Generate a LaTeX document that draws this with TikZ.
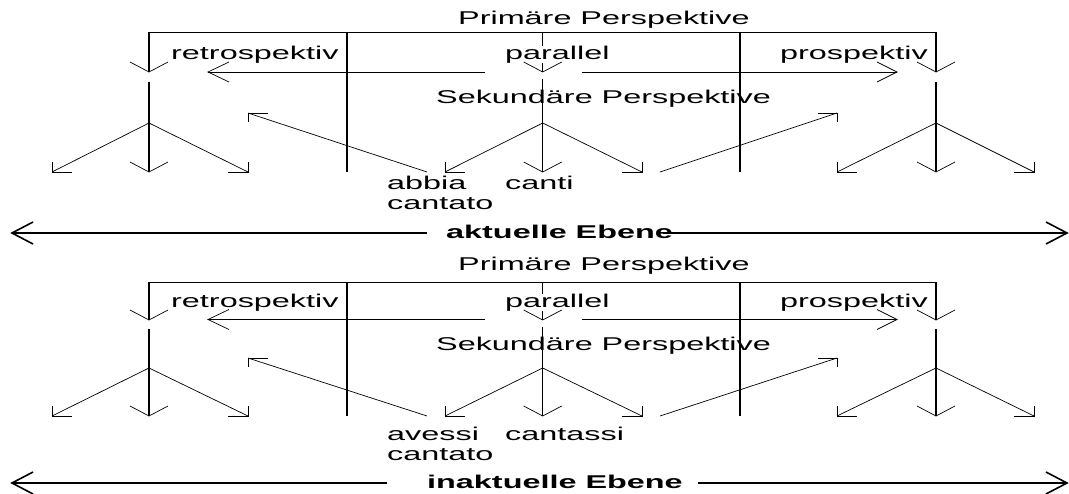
\documentclass[tikz,border=0pt]{standalone}
\usepackage{fontspec}
\newfontfamily\wf[FakeStretch=1.75]{Liberation Sans}
\tikzset{
  ln/.style={line width=0.7pt},
  mln/.style={line width=1.1pt},
  tk/.style={line width=1.6pt},
  lbl/.style={font=\wf\fontsize{18.5}{20}\selectfont, inner sep=0pt, anchor=base west},
  blbl/.style={lbl, font=\wf\bfseries\fontsize{18.5}{20}\selectfont},
}
\newcommand\mybarb[4][ln]{\draw[#1] (#2) ++(#3) -- (#2) -- ++(#4);}
\begin{document}
\begin{tikzpicture}[x=1pt,y=-1pt]
\useasboundingbox (0,0) rectangle (1069,493);
% ================= upper panel =================
\coordinate (aTL) at (149,32); \coordinate (aTR) at (936,32);
\coordinate (aD1t) at (347,32); \coordinate (aD1b) at (347,172);
\coordinate (aD2t) at (740,32); \coordinate (aD2b) at (740,172);
\coordinate (aC) at (542.7,32);
\coordinate (aLt) at (149,72); \coordinate (aMt) at (542.7,72); \coordinate (aRt) at (936,72);
\coordinate (aLs) at (149,82); \coordinate (aLb) at (149,123); \coordinate (aLd) at (149,172);
\coordinate (aLl) at (52,172); \coordinate (aLr) at (248,172);
\coordinate (aMs) at (542.7,79); \coordinate (aMb) at (542.7,123); \coordinate (aMd) at (542.7,172);
\coordinate (aMl) at (445,172); \coordinate (aMr) at (642,172);
\coordinate (aRs) at (936,82); \coordinate (aRb) at (936,123); \coordinate (aRd) at (936,172);
\coordinate (aRl) at (837,172); \coordinate (aRr) at (1034,172);
\coordinate (aH1s) at (485,72); \coordinate (aH1e) at (208,72);
\coordinate (aH2s) at (582,72); \coordinate (aH2e) at (897,72);
\coordinate (aG1s) at (427,172); \coordinate (aG1e) at (248,113);
\coordinate (aG2s) at (660,172); \coordinate (aG2e) at (837,113);
\coordinate (aE1s) at (427,233); \coordinate (aE1e) at (12,233);
\coordinate (aE2s) at (663,233); \coordinate (aE2e) at (1067,233);

\draw[ln] (aTL) -- (aTR);
\draw[mln] (aD1t) -- (aD1b);
\draw[mln] (aD2t) -- (aD2b);
\draw[mln] (aTL) -- (aLt);
\draw[mln] (aC) -- (aMt);
\draw[mln] (aTR) -- (aRt);
\draw[mln] (aLs) -- (aLd);
\draw[mln] (aMs) -- (aMd);
\draw[mln] (aRs) -- (aRd);
\draw[ln] (aLl) -- (aLb) -- (aLr);
\draw[ln] (aMl) -- (aMb) -- (aMr);
\draw[ln] (aRl) -- (aRb) -- (aRr);
\draw[ln] (aH1s) -- (aH1e);
\draw[ln] (aH2s) -- (aH2e);
\draw[ln] (aG1s) -- (aG1e);
\draw[ln] (aG2s) -- (aG2e);
\draw[tk] (aE1s) -- (aE1e);
\draw[tk] (aE2s) -- (aE2e);

\node[lbl] (aPrim) at (458,24) {Primäre Perspektive};
\node[lbl] (aRetro) at (171,59) {retrospektiv};
\node[lbl, fill=white] (aPar) at (505,59) {parallel};
\node[lbl] (aPro) at (780,59) {prospektiv};
\node[lbl] (aSek) at (436,103) {Sekundäre Perspektive};
\node[lbl] (aW1) at (387,189) {abbia};
\node[lbl] (aW1b) at (387,209) {cantato};
\node[lbl] (aW2) at (505,189) {canti};
\node[blbl] (aEb) at (446,238) {aktuelle Ebene};

\mybarb{aLt}{-19,-10}{19,-10}
\mybarb{aMt}{-19,-10}{19,-10}
\mybarb{aRt}{-19,-10}{19,-10}
\mybarb{aLd}{-19,-10}{19,-10}
\mybarb{aMd}{-19,-10}{19,-10}
\mybarb{aRd}{-19,-10}{19,-10}
\mybarb{aLl}{0,-10}{20,0}
\mybarb{aMl}{0,-10}{20,0}
\mybarb{aRl}{0,-10}{20,0}
\mybarb{aLr}{0,-10}{-20,0}
\mybarb{aMr}{0,-10}{-20,0}
\mybarb{aRr}{0,-10}{-20,0}
\mybarb{aH1e}{21,-10}{21,10}
\mybarb{aH2e}{-20,-10}{-20,10}
\mybarb{aG1e}{20,0}{0,9}
\mybarb{aG2e}{-19,0}{0,9}
\mybarb[tk]{aE1e}{21,-11}{21,11}
\mybarb[tk]{aE2e}{-21,-11}{-21,11}

% ================= lower panel =================
\coordinate (bTL) at (149,282); \coordinate (bTR) at (936,282);
\coordinate (bD1t) at (347,282); \coordinate (bD1b) at (347,416);
\coordinate (bD2t) at (740,282); \coordinate (bD2b) at (740,416);
\coordinate (bC) at (542.7,282);
\coordinate (bLt) at (149,320); \coordinate (bMt) at (542.7,320); \coordinate (bRt) at (936,320);
\coordinate (bLs) at (149,329); \coordinate (bLb) at (149,368); \coordinate (bLd) at (149,416);
\coordinate (bLl) at (52,416); \coordinate (bLr) at (248,416);
\coordinate (bMs) at (542.7,327); \coordinate (bMb) at (542.7,368); \coordinate (bMd) at (542.7,416);
\coordinate (bMl) at (445,416); \coordinate (bMr) at (642,416);
\coordinate (bRs) at (936,329); \coordinate (bRb) at (936,368); \coordinate (bRd) at (936,416);
\coordinate (bRl) at (837,416); \coordinate (bRr) at (1034,416);
\coordinate (bH1s) at (485,319.5); \coordinate (bH1e) at (208,319.5);
\coordinate (bH2s) at (582,319.5); \coordinate (bH2e) at (897,319.5);
\coordinate (bG1s) at (427,416); \coordinate (bG1e) at (248,358);
\coordinate (bG2s) at (660,416); \coordinate (bG2e) at (837,358);
\coordinate (bE1s) at (387,483); \coordinate (bE1e) at (12,483);
\coordinate (bE2s) at (698,483); \coordinate (bE2e) at (1067,483);

\draw[ln] (bTL) -- (bTR);
\draw[mln] (bD1t) -- (bD1b);
\draw[mln] (bD2t) -- (bD2b);
\draw[mln] (bTL) -- (bLt);
\draw[mln] (bC) -- (bMt);
\draw[mln] (bTR) -- (bRt);
\draw[mln] (bLs) -- (bLd);
\draw[mln] (bMs) -- (bMd);
\draw[mln] (bRs) -- (bRd);
\draw[ln] (bLl) -- (bLb) -- (bLr);
\draw[ln] (bMl) -- (bMb) -- (bMr);
\draw[ln] (bRl) -- (bRb) -- (bRr);
\draw[ln] (bH1s) -- (bH1e);
\draw[ln] (bH2s) -- (bH2e);
\draw[ln] (bG1s) -- (bG1e);
\draw[ln] (bG2s) -- (bG2e);
\draw[tk] (bE1s) -- (bE1e);
\draw[tk] (bE2s) -- (bE2e);

\node[lbl] (bPrim) at (458,270) {Primäre Perspektive};
\node[lbl] (bRetro) at (171,307) {retrospektiv};
\node[lbl, fill=white] (bPar) at (505,307) {parallel};
\node[lbl] (bPro) at (780,307) {prospektiv};
\node[lbl] (bSek) at (436,350) {Sekundäre Perspektive};
\node[lbl] (bW1) at (387,440) {avessi};
\node[lbl] (bW1b) at (387,460) {cantato};
\node[lbl] (bW2) at (505,440) {cantassi};
\node[blbl] (bEb) at (427,488) {inaktuelle Ebene};

\mybarb{bLt}{-19,-10}{19,-10}
\mybarb{bMt}{-19,-10}{19,-10}
\mybarb{bRt}{-19,-10}{19,-10}
\mybarb{bLd}{-19,-10}{19,-10}
\mybarb{bMd}{-19,-10}{19,-10}
\mybarb{bRd}{-19,-10}{19,-10}
\mybarb{bLl}{0,-10}{20,0}
\mybarb{bMl}{0,-10}{20,0}
\mybarb{bRl}{0,-10}{20,0}
\mybarb{bLr}{0,-10}{-20,0}
\mybarb{bMr}{0,-10}{-20,0}
\mybarb{bRr}{0,-10}{-20,0}
\mybarb{bH1e}{21,-10}{21,10}
\mybarb{bH2e}{-20,-10}{-20,10}
\mybarb{bG1e}{20,0}{0,9}
\mybarb{bG2e}{-19,0}{0,9}
\mybarb[tk]{bE1e}{21,-11}{21,11}
\mybarb[tk]{bE2e}{-21,-11}{-21,11}
\end{tikzpicture}
\end{document}
